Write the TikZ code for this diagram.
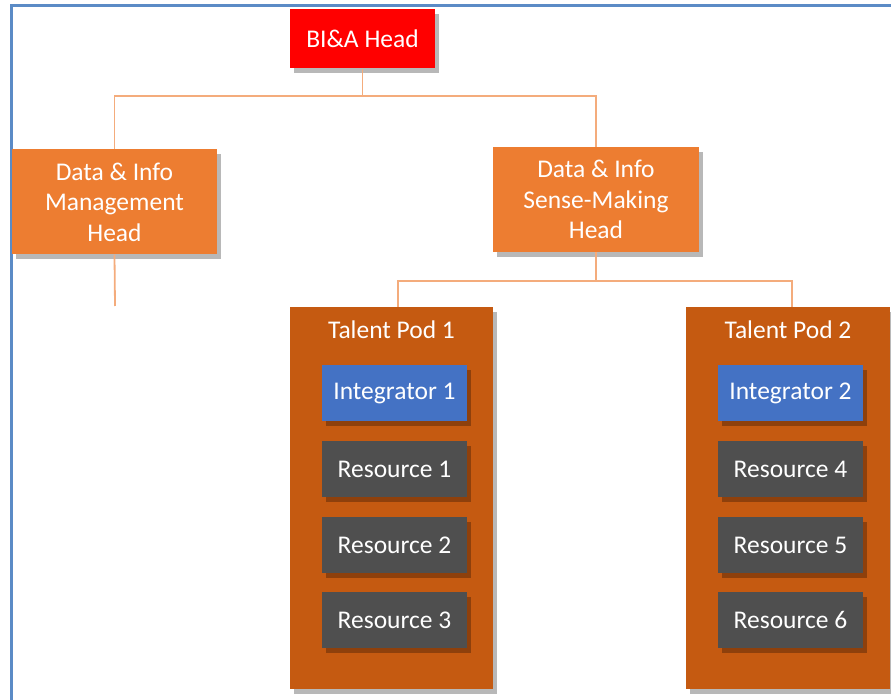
\documentclass[tikz,border=0pt]{standalone}
\usepackage{fontspec}
\setmainfont{Carlito}
\usepackage{tikz}
\usetikzlibrary{shadows}

\definecolor{headred}{HTML}{FF0000}
\definecolor{headorange}{HTML}{ED7D31}
\definecolor{podbrown}{HTML}{C55A11}
\definecolor{intblue}{HTML}{4472C4}
\definecolor{resgray}{HTML}{4F4F4F}
\definecolor{linkorange}{HTML}{F4AC7C}
\definecolor{framblue}{HTML}{5B8BC6}

\begin{document}
\begin{tikzpicture}[x=1pt, y=-1pt,
    every node/.style={text=white, font=\fontsize{25.5}{30.5}\selectfont, align=center, inner sep=0pt},
    box/.style={minimum width=#1, minimum height=56, drop shadow={shadow xshift=4pt, shadow yshift=-5pt, opacity=0.28, fill=black}},
    box/.default=145,
    head/.style={box=205, minimum height=105, fill=headorange},
    pod/.style={minimum width=203, minimum height=382, fill=podbrown, drop shadow={shadow xshift=4pt, shadow yshift=-5pt, opacity=0.28, fill=black}},
    integrator/.style={box, fill=intblue},
    resource/.style={box, fill=resgray},
    link/.style={draw=linkorange, line width=1.8pt}]
    \useasboundingbox (0,0) rectangle (891,700);
    \draw [framblue, line width=3pt] (11,700) -- (11,6) -- (891,6);
    % heads
    \node [box, minimum height=59, fill=headred] (bia) at (362.5,39) {BI\&A Head};
    \node [head] (dim) at (114.5,202) {Data \& Info\\Management\\Head};
    \node [head, minimum width=206] (dis) at (596,199.5) {Data \& Info\\Sense-Making\\Head};
    % talent pods
    \node [pod] (pod1) at (391.5,498) {};
    \node [pod, minimum width=204] (pod2) at (788,498) {};
    \node (title1) at (391.5,330) {Talent Pod 1};
    \node (title2) at (788,330) {Talent Pod 2};
    \node [integrator] (int1) at (394.5,393) {Integrator 1};
    \node [resource] (res1) at (394.5,469) {Resource 1};
    \node [resource] (res2) at (394.5,545) {Resource 2};
    \node [resource] (res3) at (394.5,620) {Resource 3};
    \node [integrator] (int2) at (790.5,393) {Integrator 2};
    \node [resource] (res4) at (790.5,469) {Resource 4};
    \node [resource] (res5) at (790.5,545) {Resource 5};
    \node [resource] (res6) at (790.5,620) {Resource 6};
    % connectors
    \coordinate (dimend) at (115,306);
    \draw [link] (bia.south) -- (362.5,96) -| (dim.north);
    \draw [link] (362.5,96) -| (dis.north);
    \draw [link] (dim.south) -- (dimend);
    \draw [link] (dis.south) -- (596,281) -| (398,0 |- pod1.north);
    \draw [link] (596,281) -| (792,0 |- pod2.north);
  \end{tikzpicture}
\end{document}
